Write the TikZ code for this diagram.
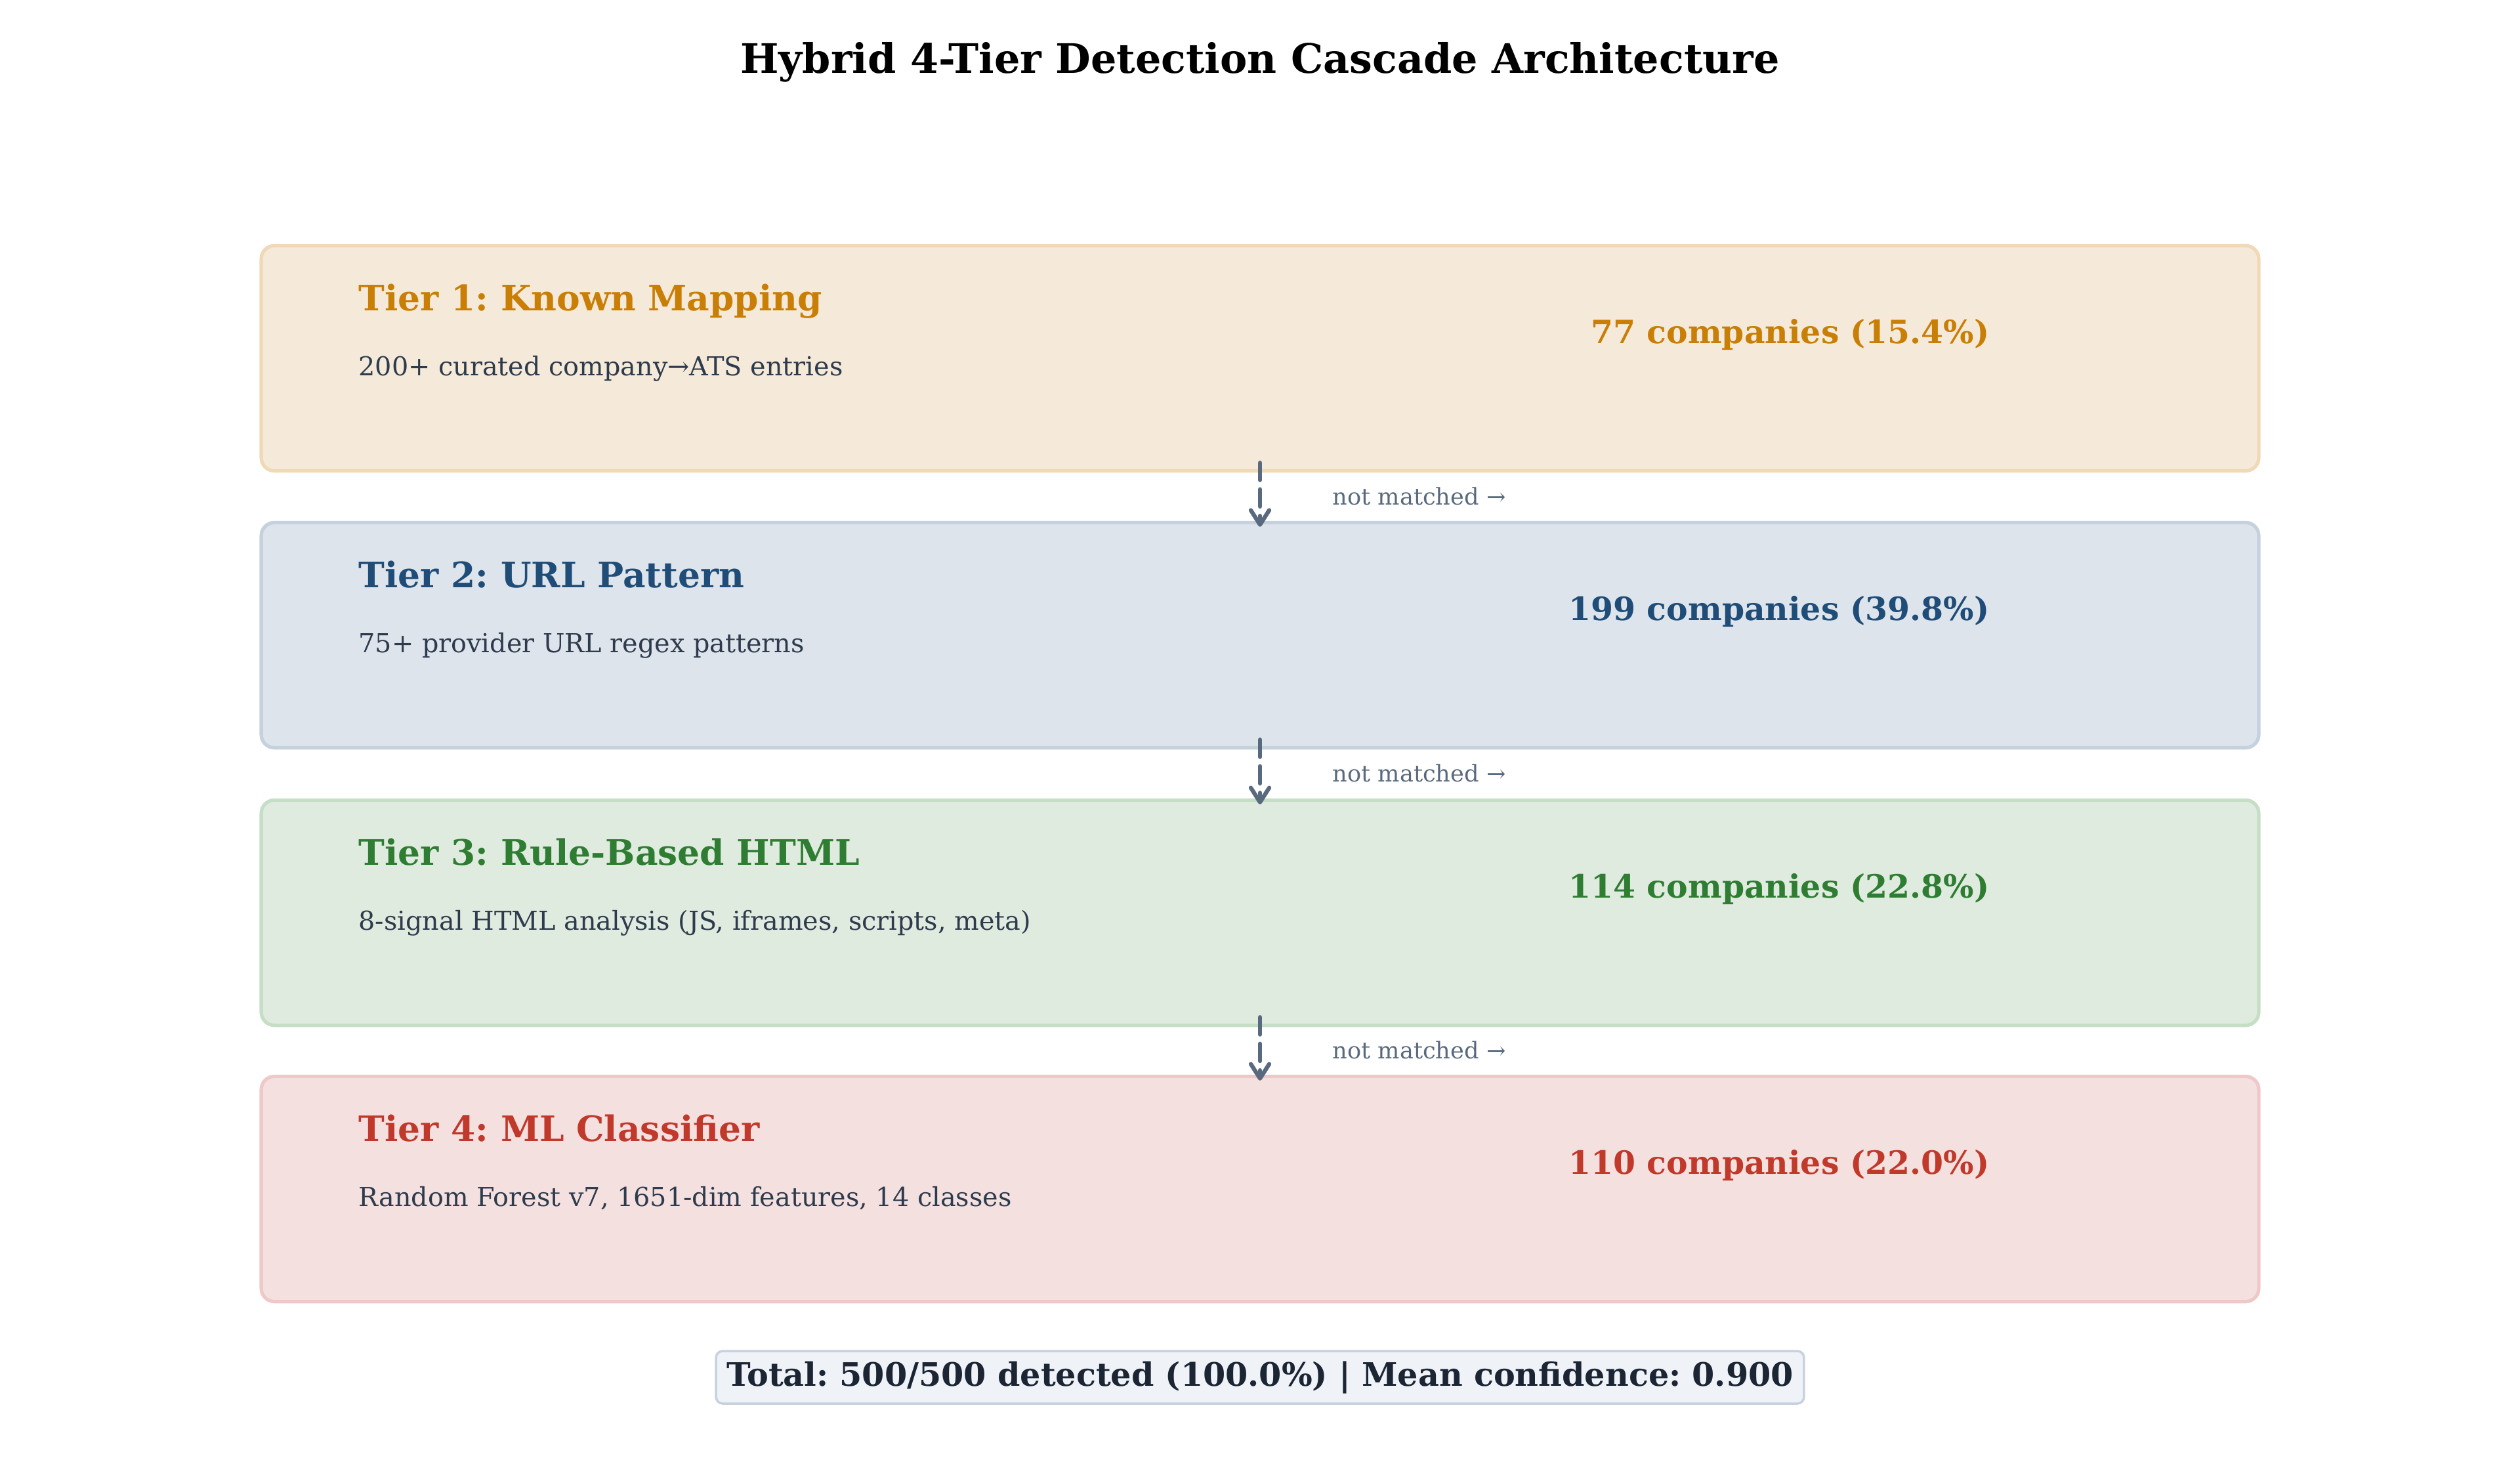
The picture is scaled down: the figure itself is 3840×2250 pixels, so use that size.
\documentclass[tikz,border=0pt]{standalone}
\usepackage{fontspec}
\setmainfont{DejaVu Serif}
\usetikzlibrary{arrows.meta}
\frenchspacing

\definecolor{mapfill}{HTML}{F5EAD9}
\definecolor{mapline}{HTML}{F0D9B6}
\definecolor{maptext}{HTML}{C97E06}
\definecolor{urlfill}{HTML}{DEE4EC}
\definecolor{urlline}{HTML}{C6D1DE}
\definecolor{urltext}{HTML}{1F4D78}
\definecolor{rulefill}{HTML}{E0EBE0}
\definecolor{ruleline}{HTML}{C6DDC6}
\definecolor{ruletext}{HTML}{2E7D32}
\definecolor{mlfill}{HTML}{F5E0E0}
\definecolor{mlline}{HTML}{EFC9C9}
\definecolor{mltext}{HTML}{C0392B}
\definecolor{descgray}{HTML}{2E3B4C}
\definecolor{slate}{HTML}{5A6A7E}
\definecolor{totalfill}{HTML}{EFF3F8}
\definecolor{totalline}{HTML}{C8D2DE}
\definecolor{totaltext}{HTML}{1C2533}

\begin{document}
\begin{tikzpicture}[x=0.01cm, y=-0.01cm, >={Straight Barb[length=2.2mm, width=2.8mm, line cap=round, line join=round]},
	tierbox/.style={line width=1.5pt, rounded corners=0.2cm, minimum width=30.42cm, minimum height=3.43cm, inner sep=0pt},
	tierhead/.style={anchor=base west, inner sep=0pt, font=\fontsize{15.2}{18}\selectfont\bfseries},
	tierdesc/.style={anchor=base west, inner sep=0pt, text=descgray, font=\fontsize{11.3}{14}\selectfont},
	tiercount/.style={anchor=base east, inner sep=0pt, font=\fontsize{13.9}{17}\selectfont\bfseries},
	passon/.style={->, slate, line width=1.8pt, line cap=round, dash pattern=on 7.5pt off 4pt},
	passlabel/.style={anchor=base west, inner sep=0pt, text=slate, font=\fontsize{10}{12}\selectfont}]
	\useasboundingbox (0,0) rectangle (3840,2250);
	\node[anchor=base, inner sep=0pt, font=\fontsize{17.6}{21}\selectfont\bfseries] (title) at (1920,111) {Hybrid 4-Tier Detection Cascade Architecture};
	% tier boxes
	\node[tierbox, draw=mapline, fill=mapfill] (tier1) at (1920,546) {};
	\node[tierbox, draw=urlline, fill=urlfill] (tier2) at (1920,968) {};
	\node[tierbox, draw=ruleline, fill=rulefill] (tier3) at (1920,1391) {};
	\node[tierbox, draw=mlline, fill=mlfill] (tier4) at (1920,1812) {};
	% tier texts
	\node[tierhead, text=maptext] (head1) at (546,473) {Tier 1: Known Mapping};
	\node[tierdesc] (desc1) at (546,572) {200+ curated company→ATS entries};
	\node[tiercount, text=maptext] (count1) at (3032,523) {77 companies (15.4\%)};
	\node[tierhead, text=urltext] (head2) at (546,895) {Tier 2: URL Pattern};
	\node[tierdesc] (desc2) at (546,994) {75+ provider URL regex patterns};
	\node[tiercount, text=urltext] (count2) at (3032,945) {199 companies (39.8\%)};
	\node[tierhead, text=ruletext] (head3) at (546,1318) {Tier 3: Rule-Based HTML};
	\node[tierdesc] (desc3) at (546,1417) {8-signal HTML analysis (JS, iframes, scripts, meta)};
	\node[tiercount, text=ruletext] (count3) at (3032,1368) {114 companies (22.8\%)};
	\node[tierhead, text=mltext] (head4) at (546,1739) {Tier 4: ML Classifier};
	\node[tierdesc] (desc4) at (546,1838) {Random Forest v7, 1651-dim features, 14 classes};
	\node[tiercount, text=mltext] (count4) at (3032,1789) {110 companies (22.0\%)};
	% fall-through arrows
	\draw[passon] ([yshift=0.15cm]tier1.south) -- ([yshift=-0.09cm]tier2.north);
	\draw[passon] ([yshift=0.15cm]tier2.south) -- ([yshift=-0.09cm]tier3.north);
	\draw[passon] ([yshift=0.15cm]tier3.south) -- ([yshift=-0.09cm]tier4.north);
	\node[passlabel] (pass1) at (2030,769) {not matched →};
	\node[passlabel] (pass2) at (2030,1191) {not matched →};
	\node[passlabel] (pass3) at (2030,1613) {not matched →};
	% summary
	\node[draw=totalline, fill=totalfill, line width=1pt, rounded corners=0.1cm, inner xsep=0.16cm, minimum height=0.8cm, text=totaltext, font=\fontsize{14}{17}\selectfont\bfseries] (total) at (1920,2099) {Total: 500/500 detected (100.0\%) | Mean confidence: 0.900};
\end{tikzpicture}
\end{document}
